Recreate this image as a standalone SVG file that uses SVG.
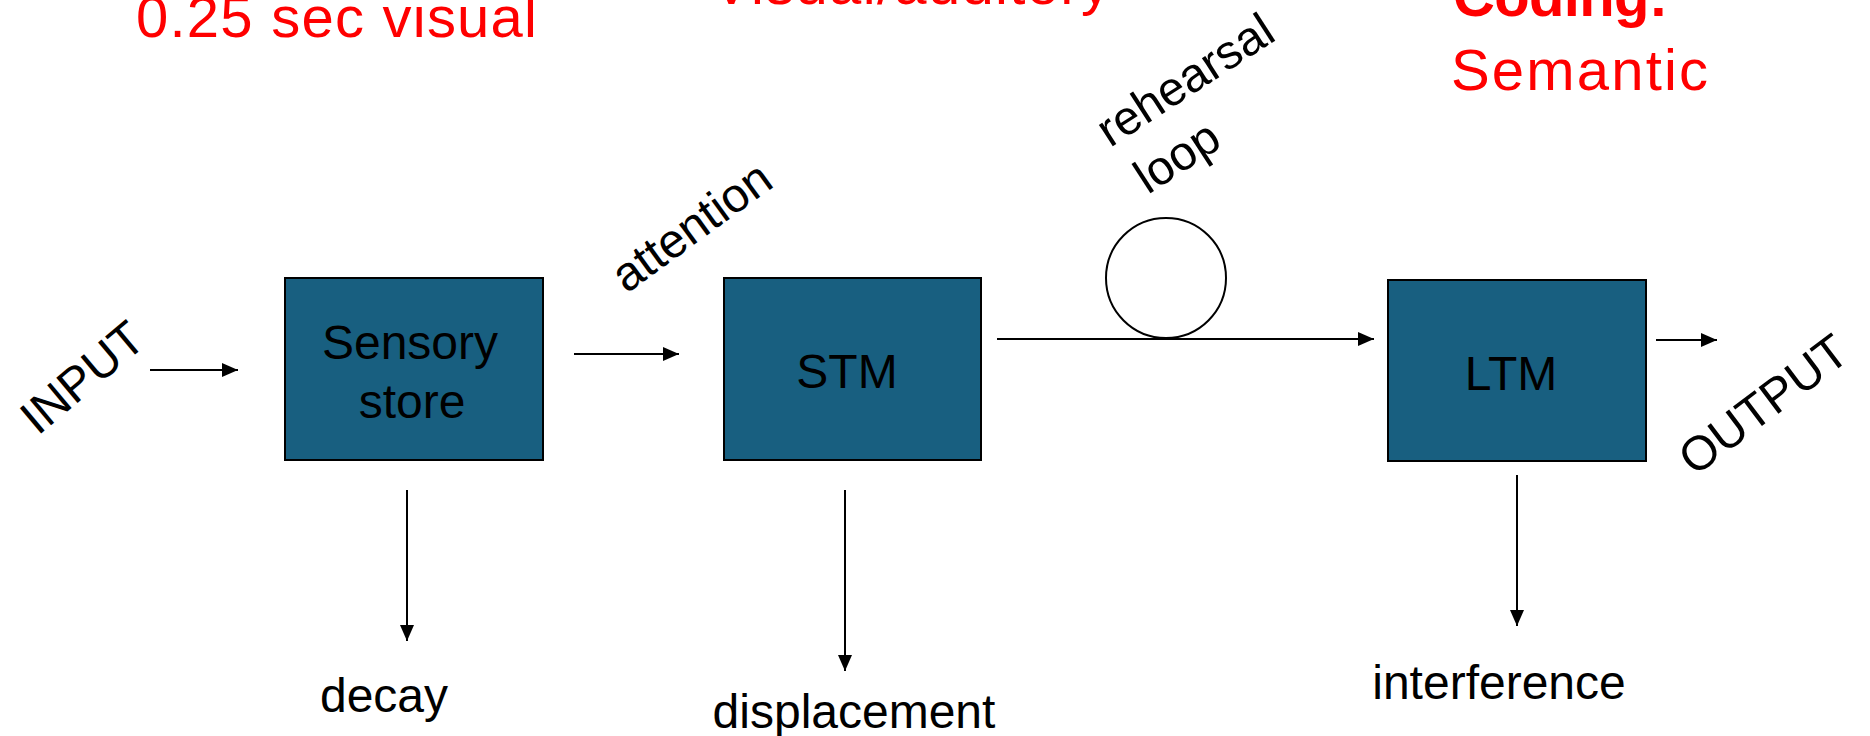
<svg xmlns="http://www.w3.org/2000/svg" width="1870" height="736" viewBox="0 0 1870 736">
<style>
.box{fill:#185f80;stroke:#000;stroke-width:2}
.lbl{font-family:"Liberation Sans",Arial,sans-serif;font-size:48px;fill:#000}
.red{font-family:"Liberation Sans",Arial,sans-serif;font-size:58px;fill:#ff0000}
.ln{stroke:#000;stroke-width:2;fill:none}
</style>
<defs>
<marker id="ah" markerUnits="userSpaceOnUse" markerWidth="17" markerHeight="15" refX="16" refY="7" orient="auto">
<path d="M0,0 L16,7 L0,14 z" fill="#000"/>
</marker>
</defs>
<rect width="1870" height="736" fill="#fff"/>
<g id="notes">
<text class="red" x="136" y="37" textLength="401">0.25 sec visual</text>
<text class="red" x="712" y="4" textLength="398">Visual/auditory</text>
<text class="red" x="1453" y="16" font-weight="bold" textLength="215">Coding:</text>
<text class="red" x="1451" y="90" textLength="257">Semantic</text>
</g>
<g id="connectors">
<line class="ln" x1="150" y1="370" x2="238" y2="370" marker-end="url(#ah)"/>
<line class="ln" x1="574" y1="354" x2="679" y2="354" marker-end="url(#ah)"/>
<line class="ln" x1="997" y1="339" x2="1374" y2="339" marker-end="url(#ah)"/>
<line class="ln" x1="1656" y1="340" x2="1717" y2="340" marker-end="url(#ah)"/>
<line class="ln" x1="407" y1="490" x2="407" y2="641" marker-end="url(#ah)"/>
<line class="ln" x1="845" y1="490" x2="845" y2="671" marker-end="url(#ah)"/>
<line class="ln" x1="1517" y1="475" x2="1517" y2="626" marker-end="url(#ah)"/>
</g>
<g id="rehearsal-loop">
<circle cx="1166" cy="278" r="60" fill="#fff" stroke="#000" stroke-width="2"/>
<text class="lbl" transform="translate(1110,148) rotate(-33)">rehearsal</text>
<text class="lbl" transform="translate(1110,148) rotate(-33)" x="6" y="60">loop</text>
</g>
<g id="input">
<text class="lbl" text-anchor="middle" transform="translate(82,377) rotate(-40)" y="17">INPUT</text>
</g>
<g id="attention">
<text class="lbl" text-anchor="middle" transform="translate(691,226) rotate(-36)" y="17">attention</text>
</g>
<g id="output">
<text class="lbl" text-anchor="middle" transform="translate(1763,404) rotate(-37)" y="17">OUTPUT</text>
</g>
<g id="sensory">
<rect class="box" x="285" y="278" width="258" height="182"/>
<text class="lbl" text-anchor="middle" x="410" y="359">Sensory</text>
<text class="lbl" text-anchor="middle" x="412" y="418">store</text>
</g>
<g id="stm">
<rect class="box" x="724" y="278" width="257" height="182"/>
<text class="lbl" text-anchor="middle" x="847" y="388">STM</text>
</g>
<g id="ltm">
<rect class="box" x="1388" y="280" width="258" height="181"/>
<text class="lbl" text-anchor="middle" x="1511" y="390">LTM</text>
</g>
<g id="decay">
<text class="lbl" text-anchor="middle" x="384" y="712">decay</text>
</g>
<g id="displacement">
<text class="lbl" text-anchor="middle" x="854" y="728">displacement</text>
</g>
<g id="interference">
<text class="lbl" text-anchor="middle" x="1499" y="699">interference</text>
</g>
</svg>
